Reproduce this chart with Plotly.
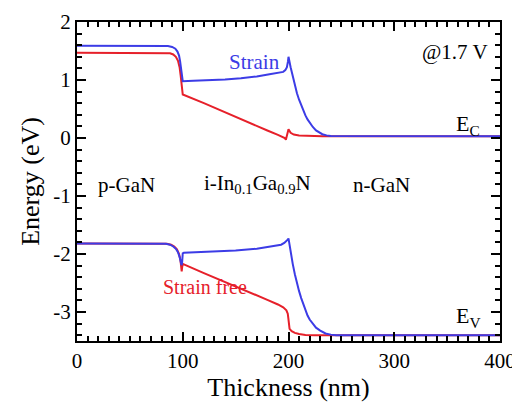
import plotly.graph_objects as go

# ---- data ----
ec_strain_x = [0, 80, 86, 90, 93, 95, 96.5, 97.5, 98.3, 99, 99.5, 100, 110, 125, 140, 155, 170, 182, 190, 195, 197, 198.5, 199.5, 200,
               202, 204, 206, 208, 210, 212, 214, 216, 218, 220, 223, 226, 229, 232, 236, 240, 400]
ec_strain_y = [1.59, 1.59, 1.585, 1.57, 1.54, 1.49, 1.42, 1.32, 1.18, 1.04, 0.99, 0.98, 0.985, 0.995, 1.01, 1.03, 1.06, 1.10, 1.125, 1.14, 1.17, 1.22, 1.32, 1.40,
               1.22, 1.05, 0.90, 0.77, 0.66, 0.56, 0.47, 0.39, 0.32, 0.26, 0.19, 0.13, 0.09, 0.065, 0.045, 0.035, 0.03]

ec_free_x = [0, 84, 88, 91, 93.5, 95.5, 97, 98, 98.7, 99.2, 100, 120, 140, 160, 180, 190, 196.5, 197.5, 199.5, 200, 202, 205, 210, 220, 232, 400]
ec_free_y = [1.47, 1.47, 1.46, 1.44, 1.40, 1.33, 1.22, 1.08, 0.92, 0.80, 0.75, 0.60, 0.44, 0.29, 0.13, 0.055, 0.0, -0.03, 0.15, 0.15, 0.09, 0.06, 0.045, 0.035, 0.03, 0.03]

ev_strain_x = [0, 78, 84, 88, 91, 93.5, 95.5, 97, 98, 98.8, 99.3, 100, 101, 110, 130, 150, 170, 185, 193, 196, 198, 199.5, 200,
               202, 204, 206, 208, 210, 212, 214, 216, 218, 220, 223, 226, 230, 235, 240, 245, 400]
ev_strain_y = [-1.82, -1.82, -1.825, -1.84, -1.87, -1.91, -1.97, -2.05, -2.13, -2.19, -2.17, -1.99, -1.98, -1.975, -1.96, -1.94, -1.91, -1.87, -1.84, -1.81, -1.78, -1.75, -1.73,
               -1.97, -2.17, -2.35, -2.51, -2.64, -2.76, -2.87, -2.97, -3.06, -3.13, -3.21, -3.27, -3.32, -3.37, -3.39, -3.40, -3.40]

ev_free_x = [0, 80, 85, 89, 92, 94.5, 96.5, 97.8, 98.5, 99, 99.5, 100, 120, 140, 160, 180, 190, 195, 198, 199.3, 199.8, 200.2, 201, 203, 206, 210, 216, 225, 400]
ev_free_y = [-1.82, -1.82, -1.825, -1.84, -1.87, -1.92, -2.00, -2.10, -2.20, -2.30, -2.22, -2.17, -2.33, -2.48, -2.64, -2.79, -2.87, -2.92, -2.97, -3.03, -3.10, -3.24, -3.29, -3.33, -3.36, -3.38, -3.395, -3.40, -3.40]

x_tick_vals = [0, 100, 200, 300, 400]
y_tick_vals = [2, 1, 0, -1, -2, -3]
y_tick_text = ["2", "1", "0", "-1", "-2", "-3"]

BLUE = "#3c3ce6"
RED = "#e6202a"
FONT = "Liberation Serif"

fig = go.Figure()
fig.add_trace(go.Scatter(x=ec_free_x, y=ec_free_y, mode="lines", line=dict(color=RED, width=2)))
fig.add_trace(go.Scatter(x=ev_free_x, y=ev_free_y, mode="lines", line=dict(color=RED, width=2)))
fig.add_trace(go.Scatter(x=ec_strain_x, y=ec_strain_y, mode="lines", line=dict(color=BLUE, width=2)))
fig.add_trace(go.Scatter(x=ev_strain_x, y=ev_strain_y, mode="lines", line=dict(color=BLUE, width=2)))

ann = [
    dict(x=168, y=1.31, text="Strain", color=BLUE, size=21),
    dict(x=357, y=1.48, text="@1.7 V", color="black", size=21),
    dict(x=370, y=0.22, text="E<sub>C</sub>", color="black", size=22),
    dict(x=47, y=-0.81, text="p-GaN", color="black", size=21),
    dict(x=171, y=-0.80, text="i-In<sub>0.1</sub>Ga<sub>0.9</sub>N", color="black", size=21),
    dict(x=288, y=-0.81, text="n-GaN", color="black", size=21),
    dict(x=121, y=-2.57, text="Strain free", color=RED, size=20),
    dict(x=370, y=-3.08, text="E<sub>V</sub>", color="black", size=22),
]
for a in ann:
    fig.add_annotation(x=a["x"], y=a["y"], text=a["text"], showarrow=False,
                       font=dict(family=FONT, size=a["size"], color=a["color"]))

axis_common = dict(showline=True, linecolor="black", linewidth=2, mirror="allticks",
                   ticks="inside", ticklen=9, tickwidth=2, tickcolor="black",
                   showgrid=False, zeroline=False, automargin=False,
                   tickfont=dict(family=FONT, size=21, color="black"))

fig.update_xaxes(range=[0, 400], tickvals=x_tick_vals,
                 minor=dict(dtick=10, ticks="inside", ticklen=5, tickwidth=1.5, tickcolor="black"),
                 title=dict(text="Thickness (nm)", font=dict(family=FONT, size=26, color="black"), standoff=2),
                 **axis_common)
fig.update_yaxes(range=[-3.5, 2], tickvals=y_tick_vals, ticktext=y_tick_text,
                 minor=dict(dtick=0.2, tick0=0, ticks="inside", ticklen=5, tickwidth=1.5, tickcolor="black"),
                 title=dict(text="Energy (eV)", font=dict(family=FONT, size=26, color="black"), standoff=6),
                 **axis_common)

# page body has an 8px margin, so size the figure to fit the 520x402 window
fig.update_layout(width=512, height=394, margin=dict(l=69, r=20, t=14, b=61),
                  plot_bgcolor="white", paper_bgcolor="white", showlegend=False)

fig.write_html("out.html")
